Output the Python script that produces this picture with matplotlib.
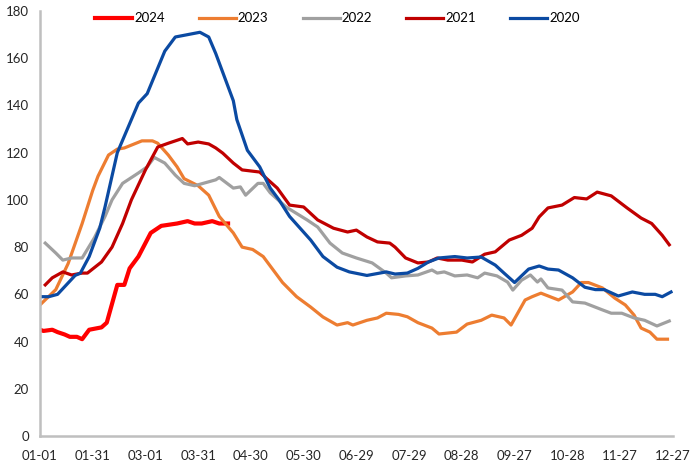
import matplotlib
matplotlib.use("Agg")
import matplotlib.pyplot as plt

# 横轴: 自 01-01 起的天数
tick_days = [0, 30, 60, 90, 120, 150, 180, 210, 240, 270, 300, 330, 360]
tick_labels = ["01-01", "01-31", "03-01", "03-31", "04-30", "05-30", "06-29",
               "07-29", "08-28", "09-27", "10-28", "11-27", "12-27"]

d2024 = [0, 2, 7, 10, 14, 17, 21, 24, 28, 35, 38, 44, 48, 51, 56, 63, 69, 78, 84, 88, 92, 98, 102, 107]
v2024 = [45, 44.5, 45, 44, 43, 42, 42, 41, 45, 46, 48, 64, 64, 71, 76, 86, 89, 90, 91, 90, 90, 91, 90, 90]

d2023 = [0, 9, 16, 24, 30, 33, 39, 44, 48, 58, 64, 67, 73, 78, 82, 90, 96, 98, 102, 110, 115, 121,
         127, 133, 138, 146, 154, 161, 169, 175, 178, 186, 192, 197, 204, 209, 215, 223, 227, 232,
         237, 243, 251, 257, 264, 268, 276, 280, 285, 295, 303, 308, 312, 320, 327, 333, 338, 342,
         347, 351, 357]
v2023 = [55.5, 62, 73, 90, 104, 110, 119, 121.5, 122, 125, 125, 124, 119, 114, 109, 106, 102, 99,
         93, 86, 80, 79, 76, 70, 65, 59, 54.6, 50.4, 47, 48, 47, 49, 50, 52, 51.5, 50.5, 48, 45.7,
         43.2, 43.6, 44, 47.4, 49, 51.2, 50, 47, 57.6, 59, 60.5, 57.6, 61, 65, 65, 62.7, 58.4, 55.5,
         51.2, 45.7, 44, 41, 41]

d2022 = [3, 9, 13, 18, 24, 31, 37, 41, 47, 56, 61, 65, 71, 77, 82, 88, 100, 102, 110, 114, 117, 124,
         127, 131, 140, 152, 158, 165, 172, 180, 189, 197, 200, 208, 215, 223, 226, 230, 236, 243,
         249, 253, 260, 266, 269, 274, 279, 283, 285, 289, 297, 303, 310, 320, 325, 331, 338, 344,
         351, 358]
v2022 = [81.7, 77.5, 74.5, 75.4, 75.4, 84, 93, 100, 107, 111.4, 114, 118, 115.6, 110.5, 107, 106,
         108.5, 109.5, 105, 105.5, 102, 107, 107, 103, 97, 91.5, 88.5, 81.7, 77.5, 75.4, 73.3, 69,
         67, 67.8, 68.2, 70.3, 69, 69.5, 67.8, 68.2, 67, 69, 67.8, 65.2, 61.8, 66, 68.2, 65.2, 66.5,
         62.7, 61.8, 56.8, 56.3, 53.4, 52, 52, 50, 49, 46.6, 48.7]

d2021 = [3, 7, 13, 18, 24, 27, 35, 41, 47, 52, 60, 67, 73, 81, 84, 90, 96, 100, 104, 110, 115, 125,
         129, 135, 142, 150, 158, 167, 175, 180, 186, 192, 199, 202, 208, 215, 221, 226, 232, 240,
         246, 253, 259, 267, 274, 280, 284, 289, 297, 304, 311, 317, 325, 334, 342, 348, 354, 358]
v2021 = [64, 67, 69.5, 68.2, 69, 69, 73.7, 80, 90, 100, 112.7, 122.4, 124, 126, 123.7, 124.5, 123.7,
         122, 119.8, 115.6, 112.7, 111.8, 109, 105, 97.8, 97, 91.5, 88, 86.4, 87.2, 84.3, 82.2,
         81.7, 80, 75.4, 73.3, 73.7, 75.4, 74.5, 74.5, 73.7, 77, 78, 83, 85, 88, 92.8, 96.6, 97.8,
         101, 100.4, 103.3, 101.7, 96.6, 92.3, 90, 85, 81]

d2020 = [0, 5, 10, 15, 20, 23, 28, 34, 37, 44, 56, 61, 71, 77, 84, 91, 96, 100, 102, 110, 112, 118,
         125, 131, 136, 142, 148, 154, 161, 169, 176, 186, 197, 202, 209, 215, 221, 227, 236, 243,
         251, 259, 264, 270, 278, 284, 289, 295, 303, 310, 316, 321, 329, 337, 344, 350, 354, 359]
v2020 = [59, 59, 60, 64, 68, 69, 76, 88, 97, 120, 141, 145, 163, 169, 170, 171, 169, 162, 158, 142,
         134, 121, 114, 105, 100, 93, 88, 83, 76, 71.5, 69.5, 68, 69.5, 68.6, 69, 71, 73.7, 75.4, 76,
         75.4, 75.8, 72.4, 69, 65, 70.7, 72, 70.7, 70.3, 67, 63, 62, 62, 59.3, 61, 60, 60, 59, 61]

series = [
    ("2024", d2024, v2024, "#FF0000", 3.0),
    ("2023", d2023, v2023, "#ED7D31", 2.3),
    ("2022", d2022, v2022, "#A0A0A0", 2.3),
    ("2021", d2021, v2021, "#C00000", 2.3),
    ("2020", d2020, v2020, "#0B4AA2", 2.3),
]

plt.rcParams['font.family'] = ['Lato', 'DejaVu Sans']

fig = plt.figure(figsize=(7, 4.67), dpi=100)
ax = fig.add_axes([0.0571, 0.0664, 0.904, 0.910])

for name, d, v, color, lw in series:
    ax.plot(d, v, color=color, linewidth=lw, label=name, solid_joinstyle='round')

ax.set_xlim(0, 360)
ax.set_ylim(0, 180)
ax.set_xticks(tick_days)
ax.set_xticklabels(tick_labels)
ax.set_yticks(range(0, 181, 20))
ax.tick_params(axis='both', length=0, labelsize=9.5, colors='#262626')
ax.tick_params(axis='x', pad=10)
ax.tick_params(axis='y', pad=8)

for s in ['top', 'right']:
    ax.spines[s].set_visible(False)
for s in ['left', 'bottom']:
    ax.spines[s].set_color('#BFBFBF')
    ax.spines[s].set_linewidth(1.8)

ax.legend(loc='upper center', bbox_to_anchor=(0.47, 1.025), ncol=5, frameon=False,
          fontsize=9.5, handlelength=2.8, handletextpad=0.15, columnspacing=2.6)

plt.savefig("out.png", dpi=100)
